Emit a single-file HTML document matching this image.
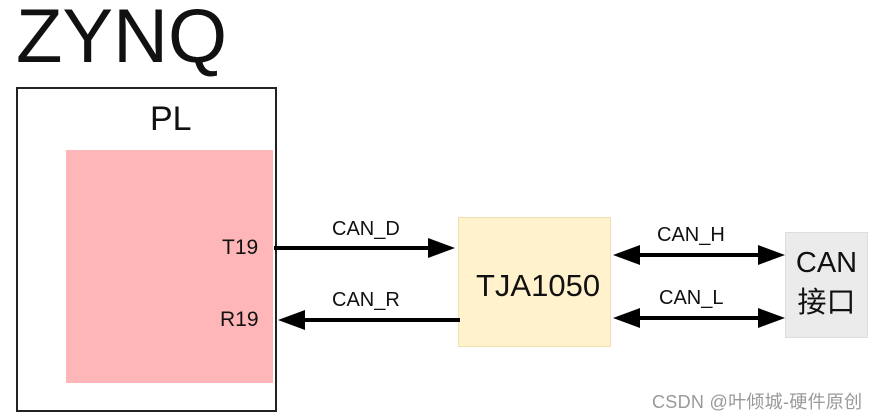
<!DOCTYPE html>
<html><head><meta charset="utf-8"><style>
body{margin:0;background:#fff;width:887px;height:420px;overflow:hidden;position:relative;font-family:"Liberation Sans","Noto Sans CJK SC",sans-serif}
div{position:absolute}
</style></head><body>
<div style="left:16px;top:-8px;font-size:76px;line-height:90px;color:#111">ZYNQ</div>
<div style="left:16px;top:87px;width:257px;height:321px;border:2px solid #222"></div>
<div style="left:150px;top:100px;font-size:34px;color:#111">PL</div>
<div style="left:66px;top:150px;width:207px;height:233px;background:#ffb6b9"></div>
<div style="left:222px;top:236px;font-size:21px;color:#111">T19</div>
<div style="left:220px;top:308px;font-size:21px;color:#111">R19</div>
<div style="left:458px;top:217px;width:153px;height:130px;background:#fff2cc;border:1px solid #f0e0b0;box-sizing:border-box"></div>
<div style="left:476px;top:268px;font-size:31px;color:#111">TJA1050</div>
<div style="left:785px;top:232px;width:83px;height:106px;background:#ebebeb;border:1px solid #ddd;box-sizing:border-box;text-align:center;font-size:29px;line-height:40px;padding-top:10px;color:#111">CAN<br>接口</div>
<div style="left:332px;top:218px;font-size:20px;color:#111">CAN_D</div>
<div style="left:332px;top:289px;font-size:20px;color:#111">CAN_R</div>
<div style="left:657px;top:224px;font-size:20px;color:#111">CAN_H</div>
<div style="left:659px;top:287px;font-size:20px;color:#111">CAN_L</div>
<svg style="position:absolute;left:0;top:0" width="887" height="420">
<g stroke="#000" stroke-width="4">
<line x1="274" y1="248" x2="432" y2="248"/>
<line x1="300" y1="320" x2="460" y2="320"/>
<line x1="632" y1="255" x2="765" y2="255"/>
<line x1="632" y1="318" x2="765" y2="318"/>
</g>
<g fill="#000">
<polygon points="455,248 428,238 428,258"/>
<polygon points="278,320 305,310 305,330"/>
<polygon points="613,255 640,245 640,265"/>
<polygon points="785,255 758,245 758,265"/>
<polygon points="613,318 640,308 640,328"/>
<polygon points="785,318 758,308 758,328"/>
</g>
</svg>
<div style="left:652px;top:388px;font-size:18px;color:#999;letter-spacing:0.3px">CSDN @叶倾城-硬件原创</div>
</body></html>
